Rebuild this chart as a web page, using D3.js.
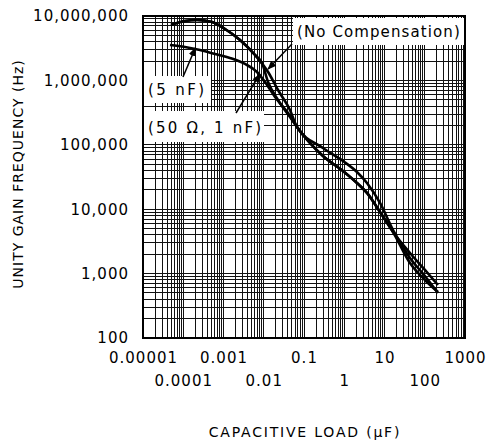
<!DOCTYPE html>
<html>
<head>
<meta charset="utf-8">
<script src="https://cdn.jsdelivr.net/npm/d3@7"></script>
<style>
  body { margin: 0; background: #fff; }
  text { font-family: "DejaVu Sans", sans-serif; fill: #000; }
</style>
</head>
<body>
<svg id="chart" width="487" height="442"></svg>
<script>
// tick values shown on each axis
const yTicks = [100, 1000, 10000, 100000, 1000000, 10000000];
const xTicksRow1 = [0.00001, 0.001, 0.1, 10, 1000];
const xTicksRow2 = [0.0001, 0.01, 1, 100];
const xLabels = {0.00001: "0.00001", 0.0001: "0.0001", 0.001: "0.001", 0.01: "0.01",
  0.1: "0.1", 1: "1", 10: "10", 100: "100", 1000: "1000"};

// curves (capacitive load uF, unity gain Hz)
const noCompX = [4.96e-5, 1.1e-4, 2.2e-4, 5.2e-4, 1.09e-3, 2.57e-3, 6.07e-3, 0.0128, 0.0226, 0.0449, 0.067, 0.296, 0.93, 2.07, 3.67, 7.73, 16.3, 43, 101, 213];
const noCompY = [7.25e6, 8.36e6, 8.67e6, 8.07e6, 6.28e6, 4.24e6, 2.48e6, 1.35e6, 7.1e5, 3.47e5, 1.89e5, 8.91e4, 5.6e4, 3.78e4, 2.55e4, 1.25e4, 4.75e3, 1.75e3, 918, 500];

const rcX = [4.96e-5, 1.1e-4, 2.2e-4, 5.2e-4, 1.09e-3, 2.57e-3, 6.07e-3, 9.06e-3, 0.0128, 0.0226, 0.0449, 0.067, 0.296, 0.93, 2.07, 3.67, 7.73, 16.3, 43, 101, 213];
const rcY = [7.25e6, 8.36e6, 8.67e6, 8.07e6, 6.28e6, 4.24e6, 2.48e6, 1.86e6, 9.44e5, 4.96e5, 2.7e5, 1.89e5, 6.7e4, 3.92e4, 2.55e4, 1.79e4, 9.05e3, 4.43e3, 2.09e3, 1.14e3, 665];

const c5nX = [4.69e-5, 1.1e-4, 2.6e-4, 6.2e-4, 1.45e-3, 3.42e-3, 6.8e-3, 0.0107, 0.0191, 0.04, 0.067, 0.296, 0.93, 2.07, 3.67, 7.73, 16.3, 43, 101, 213];
const c5nY = [3.55e6, 3.3e6, 2.97e6, 2.57e6, 2.23e6, 1.8e6, 1.35e6, 9.44e5, 5.52e5, 3.12e5, 1.89e5, 6.7e4, 3.92e4, 2.55e4, 1.79e4, 9.05e3, 4.43e3, 1.46e3, 796, 518];

const plotLeft = 143, plotRight = 465, plotTop = 16, plotBottom = 338;

const svg = d3.select("#chart");
const x = d3.scaleLog().domain([1e-5, 1000]).range([plotLeft, plotRight]);
const y = d3.scaleLog().domain([100, 1e7]).range([plotBottom, plotTop]);

// grid, every 1..9 of each decade
const grid = svg.append("g").attr("shape-rendering", "crispEdges");
grid.selectAll(".vx").data(x.ticks(10)).enter().append("line")
    .attr("class", "vx")
    .attr("x1", d => x(d)).attr("x2", d => x(d))
    .attr("y1", plotTop).attr("y2", plotBottom)
    .attr("stroke", "#111").attr("stroke-width", 1);
grid.selectAll(".hy").data(y.ticks(10)).enter().append("line")
    .attr("class", "hy")
    .attr("x1", plotLeft).attr("x2", plotRight)
    .attr("y1", d => y(d)).attr("y2", d => y(d))
    .attr("stroke", "#111").attr("stroke-width", 1);

// frame
svg.append("rect")
    .attr("x", plotLeft).attr("y", plotTop)
    .attr("width", plotRight - plotLeft).attr("height", plotBottom - plotTop)
    .attr("fill", "none").attr("stroke", "#000").attr("stroke-width", 2);

// curves
const line = d3.line().x(d => x(d[0])).y(d => y(d[1])).curve(d3.curveMonotoneX);
[[noCompX, noCompY], [rcX, rcY], [c5nX, c5nY]].forEach(([xs, ys]) => {
    svg.append("path")
        .datum(xs.map((v, i) => [v, ys[i]]))
        .attr("d", line)
        .attr("fill", "none")
        .attr("stroke", "#000")
        .attr("stroke-width", 2.6)
        .attr("stroke-linejoin", "round");
});

// annotation boxes
svg.append("defs").append("marker")
    .attr("id", "arr").attr("viewBox", "0 0 10 10")
    .attr("refX", 9).attr("refY", 5)
    .attr("markerWidth", 9).attr("markerHeight", 9)
    .attr("markerUnits", "userSpaceOnUse")
    .attr("orient", "auto")
    .append("path").attr("d", "M0,1 L10,5 L0,9 Z").attr("fill", "#000");

const notes = [
    {text: "(No Compensation)", ls: 1.1, bx: 293, by: 18, bw: 171, bh: 27, tx: 297, ty: 37, from: [292, 44], to: [0.0128, 1.5e6]},
    {text: "(5 nF)", ls: 2.4, bx: 144, by: 76, bw: 67, bh: 27, tx: 148, ty: 95, from: [183, 77], to: [2.0e-4, 3.2e6]},
    {text: "(50 \u03A9, 1 nF)", ls: 2.2, bx: 144, by: 111, bw: 120, bh: 31, tx: 148, ty: 133, from: [236, 113], to: [8.0e-3, 1.25e6]}
];
notes.forEach(n => {
    svg.append("rect").attr("x", n.bx).attr("y", n.by)
        .attr("width", n.bw).attr("height", n.bh).attr("fill", "#fff");
    svg.append("text").attr("x", n.tx).attr("y", n.ty)
        .attr("font-size", 15).attr("letter-spacing", n.ls).text(n.text);
    svg.append("line")
        .attr("x1", n.from[0]).attr("y1", n.from[1])
        .attr("x2", x(n.to[0])).attr("y2", y(n.to[1]))
        .attr("stroke", "#000").attr("stroke-width", 1.5)
        .attr("marker-end", "url(#arr)");
});

// axes
const yAxis = d3.axisLeft(y).tickValues(yTicks).tickSize(0).tickPadding(14).tickFormat(d3.format(","));
svg.append("g").attr("transform", `translate(${plotLeft},0)`).call(yAxis)
    .call(g => g.select(".domain").remove())
    .selectAll("text").attr("font-size", 15).attr("letter-spacing", 1)
    .style("font-family", "DejaVu Sans");

const xRow1 = d3.axisBottom(x).tickValues(xTicksRow1).tickSize(0).tickPadding(14).tickFormat(d => xLabels[d]);
svg.append("g").attr("transform", `translate(0,${plotBottom})`).call(xRow1)
    .call(g => g.select(".domain").remove())
    .selectAll("text").attr("font-size", 15).attr("letter-spacing", 1)
    .style("font-family", "DejaVu Sans");

const xRow2 = d3.axisBottom(x).tickValues(xTicksRow2).tickSize(0).tickPadding(37).tickFormat(d => xLabels[d]);
svg.append("g").attr("transform", `translate(0,${plotBottom})`).call(xRow2)
    .call(g => g.select(".domain").remove())
    .selectAll("text").attr("font-size", 15).attr("letter-spacing", 1)
    .style("font-family", "DejaVu Sans");

// axis titles
svg.append("text").attr("x", 305).attr("y", 437)
    .attr("text-anchor", "middle").attr("font-size", 14).attr("letter-spacing", 1.8)
    .text("CAPACITIVE LOAD (\u03BCF)");
svg.append("text")
    .attr("transform", "translate(23,174) rotate(-90)")
    .attr("text-anchor", "middle").attr("font-size", 14).attr("letter-spacing", 1)
    .text("UNITY GAIN FREQUENCY (Hz)");
</script>
</body>
</html>
